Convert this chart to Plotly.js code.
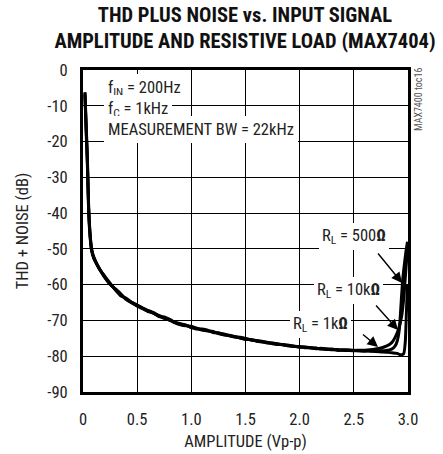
<!DOCTYPE html>
<html>
<head>
<meta charset="utf-8">
<script src="https://cdn.plot.ly/plotly-3.0.1.min.js"></script>
<style>html,body{margin:0;padding:0;background:#fff;}#chart{width:443px;height:454px;}</style>
</head>
<body>
<div id="chart"></div>
<script>
// ---- data ----
var xBase = [0.018,0.03,0.04,0.052,0.065,0.08,0.10,0.15,0.20,0.25,0.30,0.35,0.40,0.45,0.50,0.55,0.60,0.65,0.70,0.75,0.80,0.85,0.90,0.95,1.00,1.05,1.10,1.15,1.20,1.25,1.30,1.35,1.40,1.45,1.50,1.55,1.60,1.65,1.70,1.75,1.80,1.85,1.90,1.95,2.00,2.05,2.10,2.15,2.20,2.25,2.30,2.35,2.40,2.45,2.50,2.55,2.60,2.65,2.70];

var thd500 = [-6.5,-17,-25,-38.5,-46,-50.3,-52.5,-55.4,-57.8,-59.9,-61.2,-62.6,-64.2,-65.1,-65.8,-66.5,-67.2,-67.8,-68.6,-69.3,-70.0,-70.6,-70.9,-71.3,-71.9,-72.4,-72.4,-72.7,-73.4,-73.5,-73.8,-74.3,-74.6,-74.7,-75.0,-75.5,-75.6,-75.8,-76.3,-76.3,-76.6,-76.9,-76.9,-77.2,-77.5,-77.4,-77.6,-77.9,-77.8,-78.0,-78.2,-78.1,-78.3,-78.4,-78.3,-78.5,-78.4,-78.6,-78.5];
var x500Tail = [2.75,2.80,2.85,2.88,2.90,2.92,2.94,2.95,2.96,2.98,2.995];
var thd500Tail = [-78.5,-78.4,-78.0,-77.2,-75.8,-72.5,-63.5,-59,-56,-51,-48];

var thd10k = [-6.2,-16,-24,-38,-45.5,-50.1,-52.3,-55.6,-57.6,-59.6,-61.5,-63.2,-63.8,-65.0,-66.0,-66.7,-67.5,-67.9,-68.9,-69.0,-69.7,-70.7,-71.2,-71.5,-71.6,-72.2,-72.7,-72.9,-73.1,-73.7,-74.0,-74.1,-74.6,-74.9,-75.3,-75.3,-75.8,-76.0,-76.1,-76.5,-76.7,-76.7,-77.1,-77.3,-77.3,-77.6,-77.6,-77.7,-78.0,-78.0,-78.0,-78.3,-78.2,-78.2,-78.4,-78.3,-78.3,-78.2,-78.0];
var x10kTail = [2.75,2.80,2.85,2.88,2.91,2.94,2.96,2.98,2.995];
var thd10kTail = [-77.7,-77.2,-76.2,-74.8,-72.7,-69.0,-64,-56,-50];

var thd1k = [-7,-18,-26,-39.5,-46.5,-50.6,-52.7,-55.5,-58.0,-59.9,-61.3,-62.7,-64.1,-64.9,-65.7,-66.6,-67.3,-68.0,-68.7,-69.4,-69.8,-70.5,-71.1,-71.3,-72.0,-72.2,-72.6,-72.9,-73.2,-73.5,-74.0,-74.2,-74.5,-74.9,-75.1,-75.4,-75.7,-75.9,-76.2,-76.4,-76.6,-76.8,-77.1,-77.2,-77.4,-77.5,-77.7,-77.8,-77.9,-78.1,-78.1,-78.3,-78.3,-78.4,-78.5,-78.5,-78.6,-78.5,-78.7];
var x1kTail = [2.75,2.80,2.85,2.90,2.93,2.96,2.975,2.985,2.995];
var thd1kTail = [-78.8,-78.9,-79.0,-79.2,-79.6,-79.3,-76,-68,-60];

var xTickVals = [0,0.5,1,1.5,2,2.5,3];
var xTickText = ['0','0.5','1.0','1.5','2.0','2.5','3.0'];
var yTickVals = [0,-10,-20,-30,-40,-50,-60,-70,-80,-90];
var yTickText = ['0','-10','-20','-30','-40','-50','-60','-70','-80','-90'];
var seriesNames = ['R<sub>L</sub> = 500Ω','R<sub>L</sub> = 10kΩ','R<sub>L</sub> = 1kΩ'];

// ---- chart ----
var FONT = '"Roboto Condensed", Roboto, "Liberation Sans", sans-serif';
var TXT = '#222';

function line(xs, ys, name) {
  return {type:'scatter', mode:'lines', x:xs, y:ys, name:name,
          line:{color:'#000', width:3, shape:'spline', smoothing:0.5}, hoverinfo:'skip'};
}
var traces = [
  line(xBase.concat(x500Tail), thd500.concat(thd500Tail), seriesNames[0]),
  line(xBase.concat(x10kTail), thd10k.concat(thd10kTail), seriesNames[1]),
  line(xBase.concat(x1kTail), thd1k.concat(thd1kTail), seriesNames[2])
];

function label(txt,x,y,xa,pad){
  return {xref:'x', yref:'y', x:x, y:y, text:txt, showarrow:false,
          xanchor:xa||'center', yanchor:'middle', bgcolor:'#fff', borderpad:pad||3, borderwidth:0,
          font:{family:FONT, size:16.5, color:TXT}};
}
function arrow(x,y,ax,ay){
  return {xref:'x', yref:'y', x:x, y:y, ax:ax, ay:ay, text:' ', showarrow:true,
          arrowhead:2, arrowsize:1.5, arrowwidth:1.4, arrowcolor:'#000', standoff:0, startstandoff:0};
}

var axisCommon = {
  showgrid:true, gridcolor:'#000', gridwidth:1, zeroline:false,
  showline:true, linecolor:'#000', linewidth:3, mirror:true, ticks:'',
  tickfont:{family:FONT, size:16.5, color:TXT}
};

var layout = {
  width:443, height:454,
  margin:{l:83, r:35, t:70, b:62},
  showlegend:false,
  title:{text:'THD PLUS NOISE vs. INPUT SIGNAL<br>AMPLITUDE AND RESISTIVE LOAD (MAX7404)',
         font:{family:FONT, size:20.5, color:'#111', weight:'bold'},
         x:(245-83)/325, xanchor:'center', xref:'paper',
         y:0.9525, yanchor:'top', yref:'container'},
  xaxis:Object.assign({}, axisCommon, {range:[0,3], tickvals:xTickVals, ticktext:xTickText,
         ticklabelstandoff:10,
         title:{text:'AMPLITUDE (Vp-p)', font:{family:FONT, size:16.5, color:TXT}, standoff:8}}),
  yaxis:Object.assign({}, axisCommon, {range:[-90,0], tickvals:yTickVals, ticktext:yTickText,
         ticklabelstandoff:9,
         title:{text:'THD + NOISE (dB)', font:{family:FONT, size:16.5, color:TXT}, standoff:15}}),
  annotations:[
    label('f<sub>IN</sub> = 200Hz',0.19,-5.3,'left',4),
    label('f<sub>C</sub> = 1kHz',0.19,-11.0,'left',4),
    label('MEASUREMENT BW = 22kHz',0.195,-16.5,'left',4),
    label('R<sub>L</sub> = 500<b>Ω</b>',2.50,-46.4),
    label('R<sub>L</sub> = 10k<b>Ω</b>',2.455,-61.7),
    label('R<sub>L</sub> = 1k<b>Ω</b>',2.188,-71.2),
    arrow(2.945,-59.5,-27,-33),
    arrow(2.908,-72.7,-25,-28),
    arrow(2.723,-77.4,-18,-15),
    {xref:'paper', yref:'paper', x:(419-83)/325, y:1-(100-70)/322, text:'MAX7400 toc16',
     showarrow:false, textangle:-90, xanchor:'center', yanchor:'middle',
     font:{family:FONT, size:10, color:'#555'}}
  ]
};

Plotly.newPlot('chart', traces, layout, {displayModeBar:false});
</script>
</body>
</html>
